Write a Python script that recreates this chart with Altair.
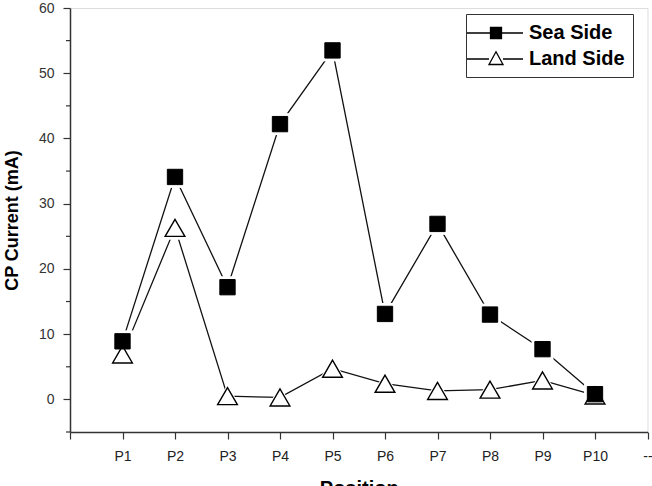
import altair as alt
import pandas as pd

# ---------------- data ----------------
positions = [1, 2, 3, 4, 5, 6, 7, 8, 9, 10]
position_labels = ["P1", "P2", "P3", "P4", "P5", "P6", "P7", "P8", "P9", "P10"]
sea_side = [8.9, 34.1, 17.2, 42.2, 53.5, 13.1, 26.9, 13.0, 7.7, 0.8]
land_side = [6.9, 26.3, 0.5, 0.3, 4.7, 2.4, 1.3, 1.5, 2.9, 0.6]
series_names = ["Sea Side", "Land Side"]
x_ticks = [0, 1, 2, 3, 4, 5, 6, 7, 8, 9, 10, 11]
y_major = [0, 10, 20, 30, 40, 50, 60]
y_minor = [-5, 5, 15, 25, 35, 45, 55]

sea_df = pd.DataFrame({"pos": positions, "value": sea_side, "series": "Sea Side"})
land_df = pd.DataFrame({"pos": positions, "value": land_side, "series": "Land Side"})
df = pd.concat([land_df, sea_df], ignore_index=True)
minor_df = pd.DataFrame({"v": y_minor})

FONT = "Liberation Sans"

# label expression built from the tick label lists
expr = "''"
for p, lab in zip(reversed(positions), reversed(position_labels)):
    expr = f"datum.value == {p} ? '{lab}' : ({expr})"
expr = f"datum.value == 11 ? '--' : ({expr})"

xscale = alt.Scale(domain=[0, 11], nice=False, zero=False)
yscale = alt.Scale(domain=[-5, 60], nice=False, zero=False)

x_axis = alt.Axis(
    values=x_ticks, labelExpr=expr, grid=False, tickSize=7, tickWidth=1.2,
    tickColor="#333", domainColor="#333", domainWidth=1.5,
    labelFont=FONT, labelFontSize=14, labelColor="#222", labelPadding=10,
    labelFlush=False, labelOverlap=False,
    title="Position", titleFont=FONT, titleFontSize=20, titleFontWeight="bold",
    titleColor="#000", titlePadding=15,
)
y_axis = alt.Axis(
    values=y_major, grid=False, tickSize=7, tickWidth=1.2, tickColor="#333",
    domainColor="#333", domainWidth=1.5,
    labelFont=FONT, labelFontSize=14, labelColor="#333", labelPadding=9,
    labelFlush=False,
    title="CP Current (mA)", titleFont=FONT, titleFontSize=18,
    titleFontWeight="bold", titleColor="#000", titlePadding=17,
)

X = alt.X("pos:Q", scale=xscale, axis=x_axis)
Y = alt.Y("value:Q", scale=yscale, axis=y_axis)

lines = alt.Chart(df).mark_line(color="#111", strokeWidth=1.3).encode(
    x=X, y=Y, detail="series:N"
)

# white halos give the small gaps between lines and markers
sea_halo = alt.Chart(sea_df).mark_point(
    shape="square", filled=True, color="white", opacity=1, size=480
).encode(x=X, y=Y)
land_halo = alt.Chart(land_df).mark_point(
    shape="triangle-up", filled=True, color="white", opacity=1, size=760
).encode(x=X, y=Y)

land_pts = alt.Chart(land_df).mark_point(
    shape="triangle-up", filled=True, fill="white", stroke="black",
    strokeWidth=1.4, opacity=1, size=390
).encode(x=X, y=Y)
sea_pts = alt.Chart(sea_df).mark_point(
    shape="square", filled=True, fill="black", stroke="black",
    strokeWidth=1.0, opacity=1, size=235
).encode(x=X, y=Y)

minor = alt.Chart(minor_df).mark_rule(color="#333", strokeWidth=1.2).encode(
    y=alt.Y("v:Q", scale=yscale, axis=y_axis),
    x=alt.value(-4), x2=alt.value(0),
)

# legend symbols: line + marker, as custom SVG paths
sea_path = "M-1.8,0H3.8M0.55,-0.55H1.65V0.55H0.55Z"
land_path = "M-1.8,0H0.4M1.8,0H3.8M1.1,-0.72L1.8,0.55H0.4Z"

legend = alt.Legend(
    title=None, orient="none", legendX=396, legendY=6,
    strokeColor="#333", fillColor="white", padding=8, rowPadding=5,
    symbolSize=400, labelOffset=33, labelFont=FONT, labelFontSize=20,
    labelFontWeight="bold", labelColor="#000", labelExpr="datum.label + '\u00a0'",
    symbolStrokeWidth=1.3, symbolOpacity=1,
)

legend_layer = alt.Chart(df).transform_filter("false").mark_point(
    filled=True, strokeWidth=1.3, size=400, opacity=1
).encode(
    x=X, y=Y,
    shape=alt.Shape("series:N", scale=alt.Scale(domain=series_names, range=[sea_path, land_path]), legend=legend),
    fill=alt.Fill("series:N", scale=alt.Scale(domain=series_names, range=["black", "white"]), legend=legend),
    stroke=alt.Stroke("series:N", scale=alt.Scale(domain=series_names, range=["black", "black"]), legend=legend),
)

chart = alt.layer(
    lines, sea_halo, land_halo, land_pts, sea_pts, minor, legend_layer
).properties(
    width=577.5, height=424,
    autosize=alt.AutoSizeParams(type="none"),
    padding={"left": 70, "top": 8, "right": 4.5, "bottom": 54},
).configure_view(stroke="#444", strokeWidth=1.5).configure(background="white")

chart.save("out.html", embed_options={"renderer": "svg", "actions": False})
